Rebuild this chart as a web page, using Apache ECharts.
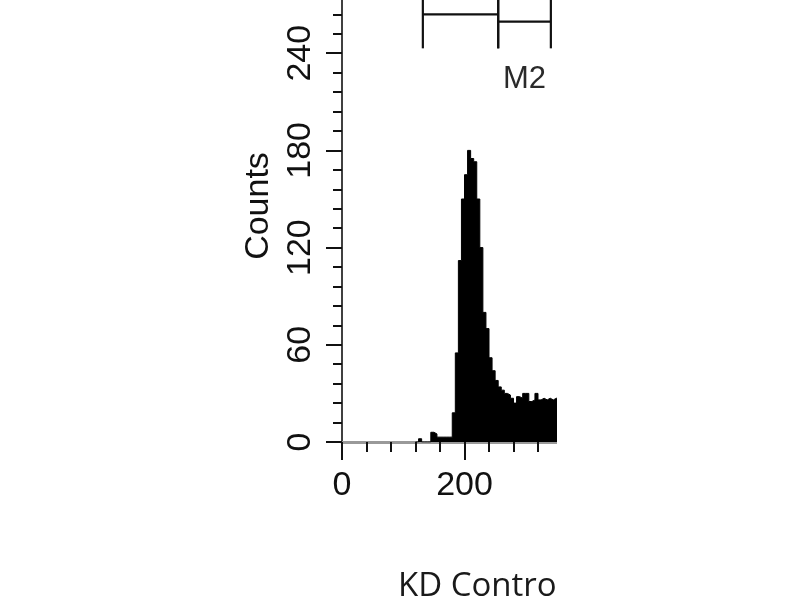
<!DOCTYPE html>
<html>
<head>
<meta charset="utf-8">
<script src="https://cdn.jsdelivr.net/npm/echarts@6/dist/echarts.min.js"></script>
<style>
html,body{margin:0;padding:0;background:#fff;}
#chart{width:800px;height:600px;}
</style>
</head>
<body>
<div id="chart"></div>
<script>
// ---- data ----
var binStart = 120;
var binWidth = 5;
var counts = [0,2,0,0,0,6,5,3,3,3,3,3,18,55,112,150,165,180,175,173,150,120,80,70,52,44,38,34,32,30,29,27,24,28,27,30,30,25,26,30,26,27,26,27,26,27,27];
var yTicks = [0, 60, 120, 180, 240];
var xTicks = [0, 200];
var gates = [
  { name: 'M1', start: 132, end: 255, level: 264, showLabel: false },
  { name: 'M2', start: 255, end: 341, level: 259.5, showLabel: true }
];
var gateTop = 300, gateBottom = 243, labelY = 224;
var xTitle = 'KD Contro';
var yTitle = 'Counts';

// ---- build ----
var histData = [];
for (var i = 0; i < counts.length; i++) histData.push([binStart + i * binWidth, counts[i]]);
histData.push([binStart + counts.length * binWidth, counts[counts.length - 1]]);

var chart = echarts.init(document.getElementById('chart'), null, {renderer: 'canvas'});
var font = 'Liberation Sans, Arial, sans-serif';

chart.setOption({
  animation: false,
  backgroundColor: '#fff',
  grid: { left: 342, top: -44, width: 245, height: 486, containLabel: false, outerBoundsMode: 'none' },
  xAxis: {
    type: 'value', min: 0, max: 400, interval: 200,
    axisLine: { show: true, onZero: false, lineStyle: { color: '#999', width: 3 } },
    axisTick: { show: true, length: 18, lineStyle: { color: '#111', width: 2 } },
    minorTick: { show: true, splitNumber: 5, length: 10, lineStyle: { color: '#111', width: 2 } },
    splitLine: { show: false },
    axisLabel: { fontSize: 34, fontFamily: font, color: '#111', margin: 27, showMaxLabel: false,
      formatter: function (v) { return xTicks.indexOf(v) >= 0 ? String(v) : ''; } }
  },
  yAxis: {
    type: 'value', min: 0, max: 300, interval: 60, offset: 4,
    name: yTitle, nameLocation: 'middle', nameGap: 62, nameRotate: 90,
    nameTextStyle: { fontSize: 34, fontFamily: font, color: '#111', padding: [0, 14, 0, 0] },
    axisLine: { show: true, lineStyle: { color: '#000', width: 1.5 } },
    axisTick: { show: true, length: 16, lineStyle: { color: '#111', width: 2 } },
    minorTick: { show: true, splitNumber: 5, length: 9, lineStyle: { color: '#111', width: 2 } },
    splitLine: { show: false },
    axisLabel: { rotate: 90, fontSize: 34, fontFamily: font, color: '#111', margin: 20,
      formatter: function (v) { return yTicks.indexOf(v) >= 0 ? String(v) : ''; } }
  },
  series: [
    {
      type: 'line', step: 'end', symbol: 'none', data: histData,
      lineStyle: { color: '#000', width: 1 },
      areaStyle: { color: '#000', opacity: 1 }
    },
    {
      type: 'custom', clip: false,
      data: gates.map(function (g, i) { return [g.start, g.end, g.level, i]; }),
      encode: { x: [0, 1], y: 2 },
      renderItem: function (params, api) {
        var g = gates[api.value(3)];
        var a = api.coord([g.start, gateTop]);
        var b = api.coord([g.start, gateBottom]);
        var c = api.coord([g.end, gateTop]);
        var d = api.coord([g.end, gateBottom]);
        var l1 = api.coord([g.start, g.level]);
        var l2 = api.coord([g.end, g.level]);
        var st = { stroke: '#111', lineWidth: 2.2, fill: null };
        var children = [
          { type: 'line', shape: { x1: a[0], y1: a[1], x2: b[0], y2: b[1] }, style: st },
          { type: 'line', shape: { x1: c[0], y1: c[1], x2: d[0], y2: d[1] }, style: st },
          { type: 'line', shape: { x1: l1[0], y1: l1[1], x2: l2[0], y2: l2[1] }, style: st }
        ];
        if (g.showLabel) {
          var p = api.coord([(g.start + g.end) / 2, labelY]);
          children.push({ type: 'text', x: p[0], y: p[1], style: { text: g.name, font: '31px ' + font, fill: '#2a2a2a', align: 'center', verticalAlign: 'middle' } });
        }
        return { type: 'group', children: children };
      }
    }
  ],
  graphic: [
    { type: 'rect', z: 100, shape: { x: 557, y: 0, width: 243, height: 560 }, style: { fill: '#fff' } },
    { type: 'text', z: 101, x: 398, y: 587, style: { text: xTitle, font: '33px "Open Sans", sans-serif', fill: '#1a1a1a', align: 'left', verticalAlign: 'middle' } }
  ]
});
</script>
</body>
</html>
